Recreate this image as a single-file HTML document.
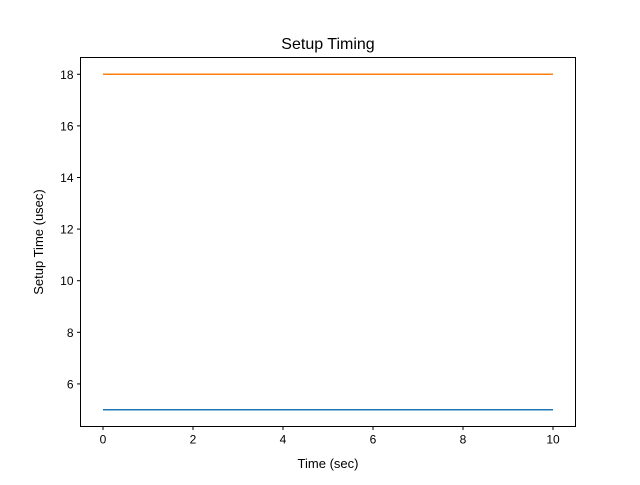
<!DOCTYPE html>
<html><head><meta charset="utf-8"><style>
body{margin:0;background:#fff}
svg text{font-family:"Liberation Sans","DejaVu Sans",sans-serif;fill:#000}
</style></head><body>
<svg id="chart" width="640" height="480">
<rect width="640" height="480" fill="#fff"/>
<text x="328" y="49" font-size="16" text-anchor="middle">Setup Timing</text>
<text x="328" y="468" font-size="13" text-anchor="middle">Time (sec)</text>
<text transform="translate(43,242) rotate(-90)" font-size="13" text-anchor="middle">Setup Time (usec)</text>
<g id="ticks"></g>
<g id="lines"></g>
<rect x="80.5" y="57.5" width="495" height="369" fill="none" stroke="#000" stroke-width="1"/>
</svg>
<script>
const xValues = [0, 10];
const seriesA = [5, 5];
const seriesB = [18, 18];
const xTicks = [0, 2, 4, 6, 8, 10];
const yTicks = [6, 8, 10, 12, 14, 16, 18];
const colors = ['#1f77b4', '#ff7f0e'];

const L = 80.5, R = 575.5, T = 57.5, B = 426.5;
const xmin = -0.5, xmax = 10.5, ymin = 4.35, ymax = 18.65;
const xs = v => L + (v - xmin) / (xmax - xmin) * (R - L);
const ys = v => B - (v - ymin) / (ymax - ymin) * (B - T);
const NS = 'http://www.w3.org/2000/svg';
const tg = document.getElementById('ticks');
function mk(tag, attrs, parent) {
  const e = document.createElementNS(NS, tag);
  for (const k in attrs) e.setAttribute(k, attrs[k]);
  parent.appendChild(e); return e;
}
xTicks.forEach(t => {
  const x = xs(t);
  const l = mk('line', {x1: x, x2: x, y1: B, y2: B + 3.5, stroke: '#000'}, tg);
  
  
  const tx = mk('text', {x: x, y: B + 17, 'font-size': 12, 'text-anchor': 'middle'}, tg);
  tx.textContent = t;
  
  
});
yTicks.forEach(t => {
  const y = ys(t);
  const l = mk('line', {x1: L - 3.5, x2: L, y1: y, y2: y, stroke: '#000'}, tg);
  
  
  const tx = mk('text', {x: L - 7, y: y + 4.5, 'font-size': 12, 'text-anchor': 'end'}, tg);
  tx.textContent = t;
  
  
});
const lg = document.getElementById('lines');
[seriesA, seriesB].forEach((s, i) => {
  const pts = s.map((v, j) => xs(xValues[j]) + ',' + ys(v)).join(' ');
  const p = mk('polyline', {points: pts, fill: 'none', stroke: colors[i], 'stroke-width': 1.5}, lg);
  
  
});
</script>
</body></html>
